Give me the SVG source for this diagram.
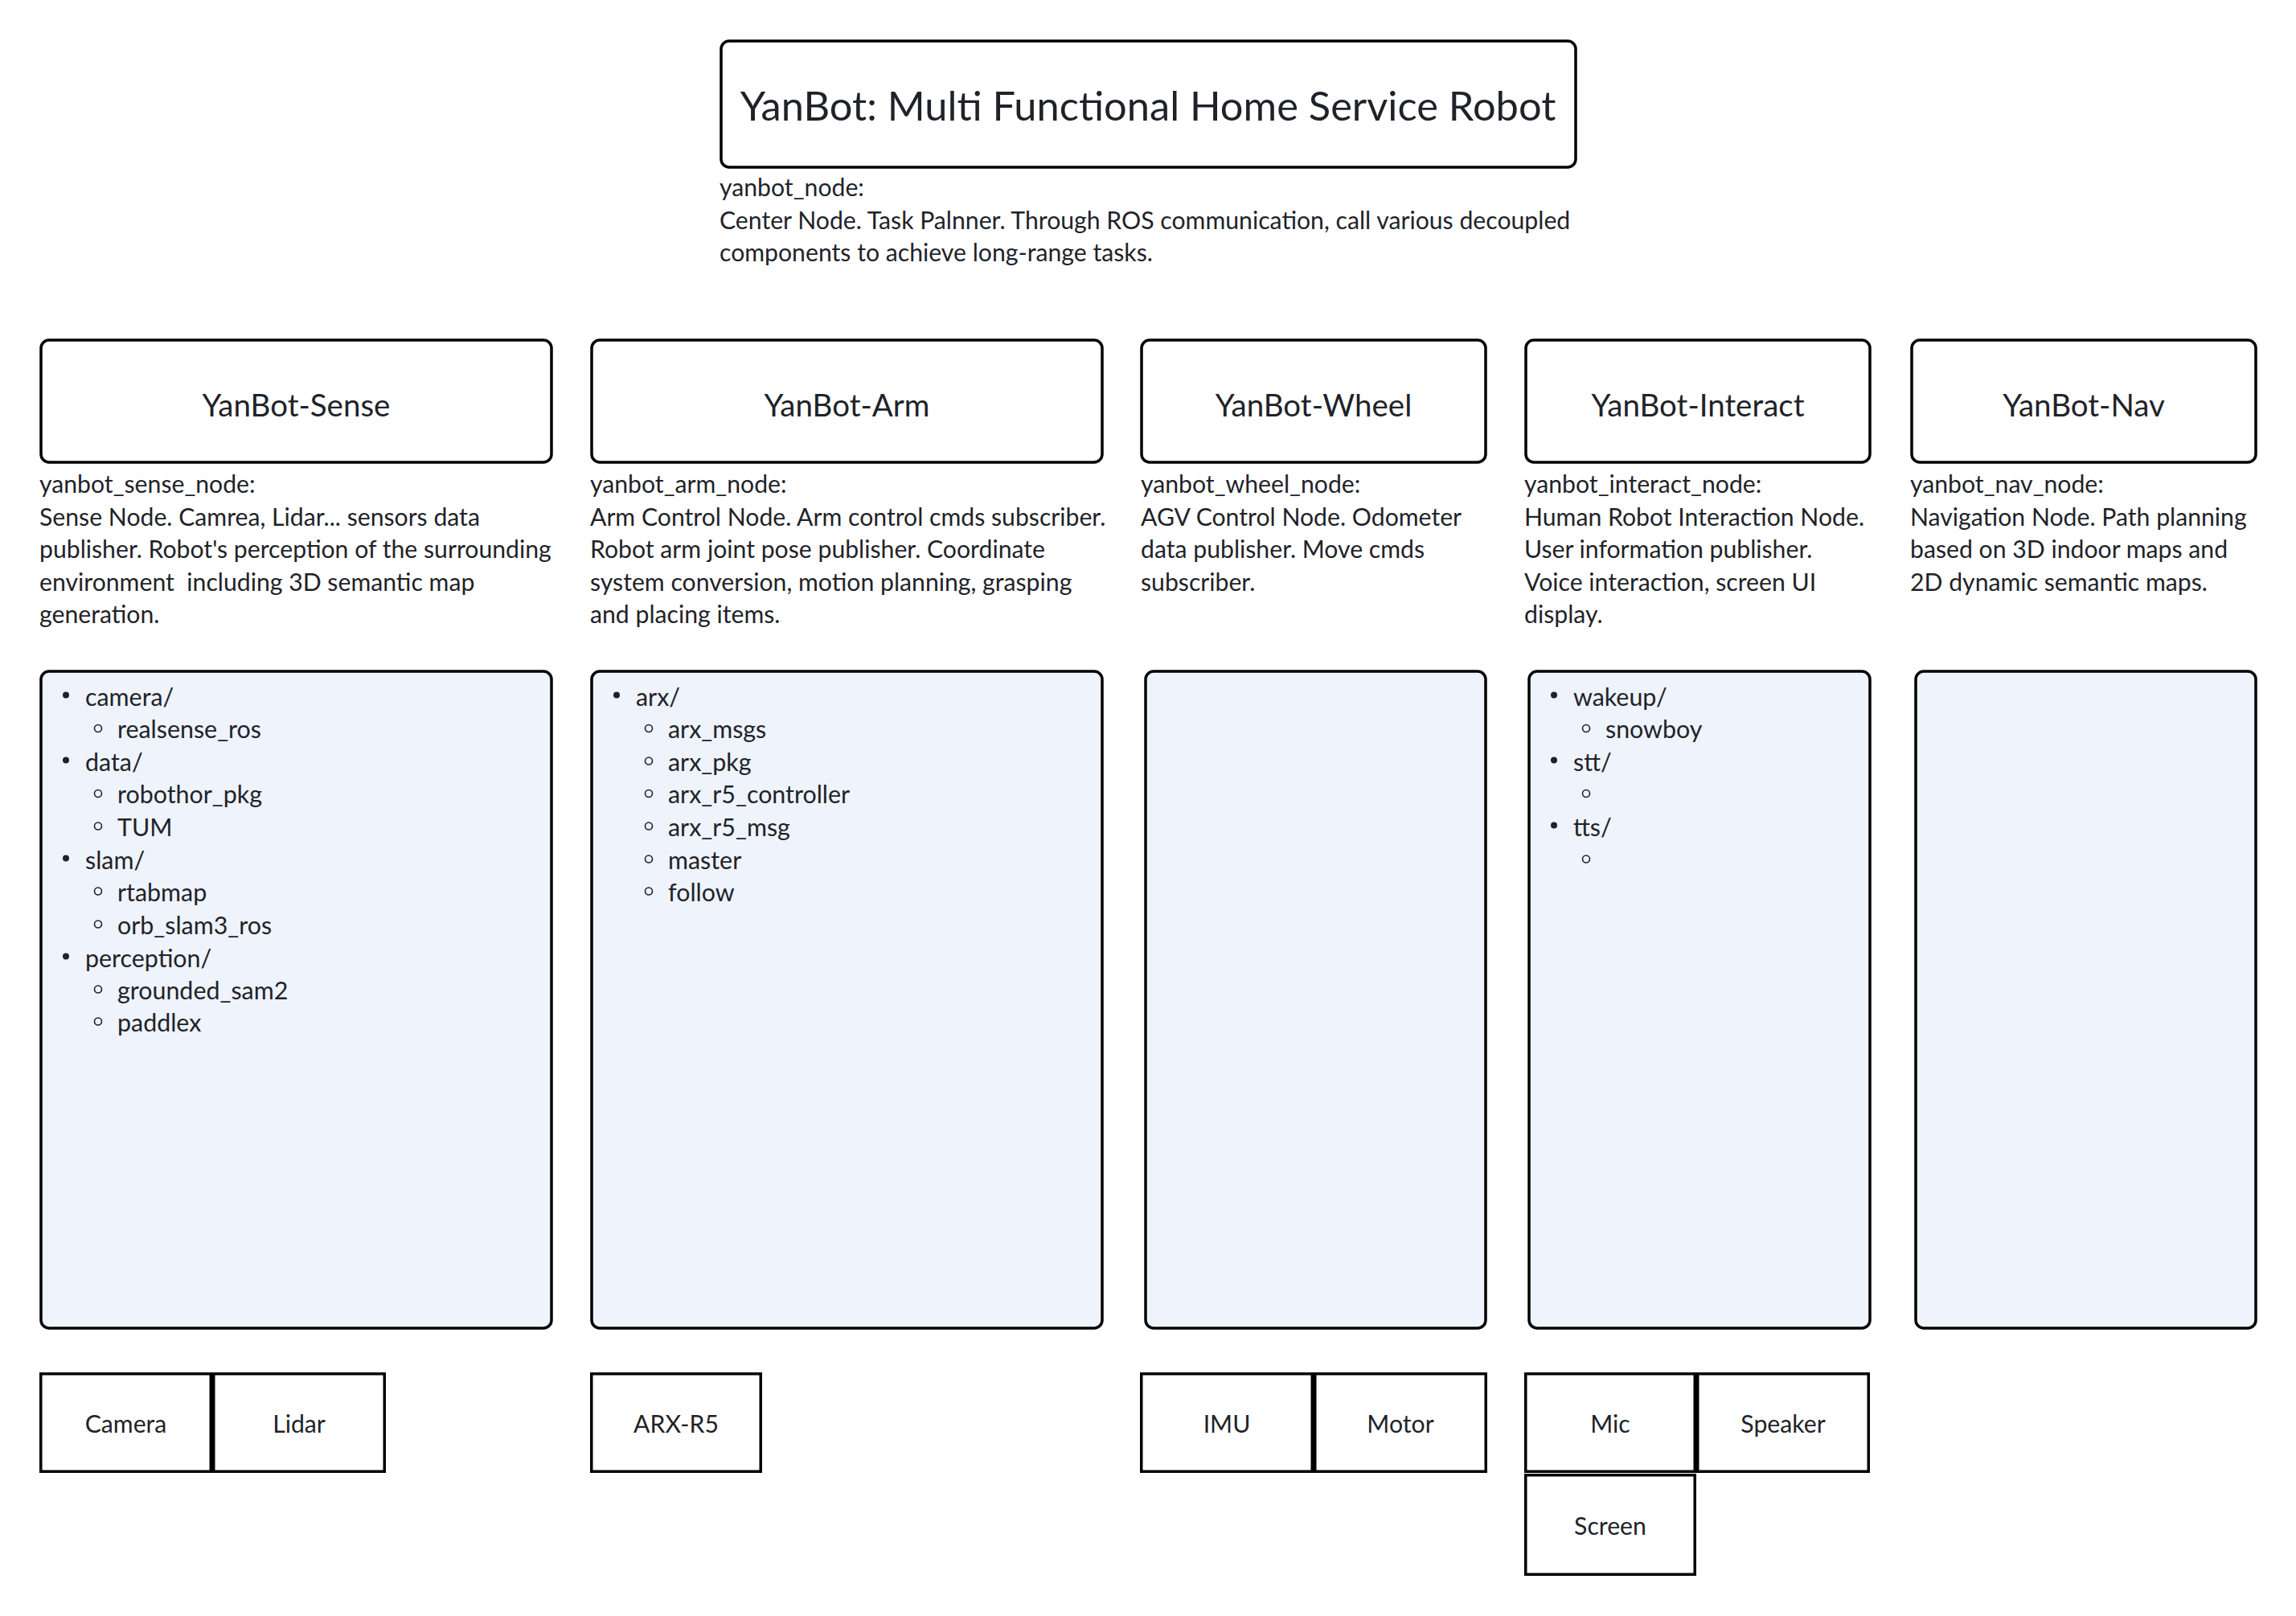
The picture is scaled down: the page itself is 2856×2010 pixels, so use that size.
<svg xmlns="http://www.w3.org/2000/svg" width="2856" height="2010" viewBox="0 0 2856 2010">
<style>
  text { font-family: Lato, "Liberation Sans", sans-serif; fill: #1f2329; white-space: pre; }
  .title { font-size: 50.6px; text-anchor: middle; }
  .head { font-size: 38.5px; text-anchor: middle; }
  .desc { font-size: 30.2px; }
  .item { font-size: 30.4px; }
  .dev { font-size: 30.2px; text-anchor: middle; }
  .hbox { fill: #ffffff; stroke: #000000; stroke-width: 3.5; }
  .lbox { fill: #eef3fc; stroke: #000000; stroke-width: 3.5; }
  .dbox { fill: #ffffff; stroke: #000000; stroke-width: 3.5; }
  .dot { fill: #1f2329; }
  .ring { fill: none; stroke: #1f2329; stroke-width: 1.6; }
</style>
<rect width="2856" height="2010" fill="#ffffff"/>
<g id="connectors"></g>

<g id="yanbot">
  <rect class="hbox" x="897" y="51" width="1063" height="157" rx="10"/>
  <text class="title" x="1428" y="150">YanBot: Multi Functional Home Service Robot</text>
  <text class="desc" x="895" y="244">yanbot_node:</text>
  <text class="desc" x="895" y="284.6">Center Node. Task Palnner. Through ROS communication, call various decoupled</text>
  <text class="desc" x="895" y="325.2">components to achieve long-range tasks.</text>
</g>

<g id="sense">
  <rect class="hbox" x="51" y="423" width="635" height="152" rx="10"/>
  <text class="head" x="368.5" y="518">YanBot-Sense</text>
  <text class="desc" x="49" y="613">yanbot_sense_node:</text>
  <text class="desc" x="49" y="653.6">Sense Node. Camrea, Lidar... sensors data</text>
  <text class="desc" x="49" y="694.2">publisher. Robot's perception of the surrounding</text>
  <text class="desc" x="49" y="734.8">environment  including 3D semantic map</text>
  <text class="desc" x="49" y="775.4">generation.</text>
</g>
<g id="sense-list">
  <rect class="lbox" x="51" y="835" width="635" height="817" rx="10"/>
  <circle class="dot" cx="82" cy="864.5" r="4"/><text class="item" x="106" y="877.5">camera/</text>
  <circle class="ring" cx="122" cy="906" r="4.5"/><text class="item" x="146" y="918">realsense_ros</text>
  <circle class="dot" cx="82" cy="945.5" r="4"/><text class="item" x="106" y="958.5">data/</text>
  <circle class="ring" cx="122" cy="987" r="4.5"/><text class="item" x="146" y="999">robothor_pkg</text>
  <circle class="ring" cx="122" cy="1027.5" r="4.5"/><text class="item" x="146" y="1039.5">TUM</text>
  <circle class="dot" cx="82" cy="1067.5" r="4"/><text class="item" x="106" y="1080.5">slam/</text>
  <circle class="ring" cx="122" cy="1108.5" r="4.5"/><text class="item" x="146" y="1120.5">rtabmap</text>
  <circle class="ring" cx="122" cy="1149.5" r="4.5"/><text class="item" x="146" y="1161.5">orb_slam3_ros</text>
  <circle class="dot" cx="82" cy="1189.5" r="4"/><text class="item" x="106" y="1202.5">perception/</text>
  <circle class="ring" cx="122" cy="1230.5" r="4.5"/><text class="item" x="146" y="1242.5">grounded_sam2</text>
  <circle class="ring" cx="122" cy="1270.5" r="4.5"/><text class="item" x="146" y="1282.5">paddlex</text>
</g>
<g id="camera">
  <rect class="dbox" x="50.75" y="1708.75" width="211.5" height="121.5"/>
  <text class="dev" x="156.5" y="1782">Camera</text>
</g>
<g id="lidar">
  <rect class="dbox" x="265.75" y="1708.75" width="212.5" height="121.5"/>
  <text class="dev" x="372" y="1782">Lidar</text>
</g>

<g id="arm">
  <rect class="hbox" x="736" y="423" width="635" height="152" rx="10"/>
  <text class="head" x="1053.5" y="518">YanBot-Arm</text>
  <text class="desc" x="734" y="613">yanbot_arm_node:</text>
  <text class="desc" x="734" y="653.6">Arm Control Node. Arm control cmds subscriber.</text>
  <text class="desc" x="734" y="694.2">Robot arm joint pose publisher. Coordinate</text>
  <text class="desc" x="734" y="734.8">system conversion, motion planning, grasping</text>
  <text class="desc" x="734" y="775.4">and placing items.</text>
</g>
<g id="arm-list">
  <rect class="lbox" x="736" y="835" width="635" height="817" rx="10"/>
  <circle class="dot" cx="767" cy="864.5" r="4"/><text class="item" x="791" y="877.5">arx/</text>
  <circle class="ring" cx="807" cy="906" r="4.5"/><text class="item" x="831" y="918">arx_msgs</text>
  <circle class="ring" cx="807" cy="946.5" r="4.5"/><text class="item" x="831" y="958.5">arx_pkg</text>
  <circle class="ring" cx="807" cy="987" r="4.5"/><text class="item" x="831" y="999">arx_r5_controller</text>
  <circle class="ring" cx="807" cy="1027.5" r="4.5"/><text class="item" x="831" y="1039.5">arx_r5_msg</text>
  <circle class="ring" cx="807" cy="1068.5" r="4.5"/><text class="item" x="831" y="1080.5">master</text>
  <circle class="ring" cx="807" cy="1108.5" r="4.5"/><text class="item" x="831" y="1120.5">follow</text>
</g>
<g id="arx-r5">
  <rect class="dbox" x="735.75" y="1708.75" width="210.5" height="121.5"/>
  <text class="dev" x="841" y="1782">ARX-R5</text>
</g>

<g id="wheel">
  <rect class="hbox" x="1420" y="423" width="428" height="152" rx="10"/>
  <text class="head" x="1634" y="518">YanBot-Wheel</text>
  <text class="desc" x="1419" y="613">yanbot_wheel_node:</text>
  <text class="desc" x="1419" y="653.6">AGV Control Node. Odometer</text>
  <text class="desc" x="1419" y="694.2">data publisher. Move cmds</text>
  <text class="desc" x="1419" y="734.8">subscriber.</text>
</g>
<g id="wheel-list">
  <rect class="lbox" x="1425" y="835" width="423" height="817" rx="10"/>
</g>
<g id="imu">
  <rect class="dbox" x="1419.75" y="1708.75" width="212.5" height="121.5"/>
  <text class="dev" x="1526" y="1782">IMU</text>
</g>
<g id="motor">
  <rect class="dbox" x="1635.75" y="1708.75" width="212.5" height="121.5"/>
  <text class="dev" x="1742" y="1782">Motor</text>
</g>

<g id="interact">
  <rect class="hbox" x="1898" y="423" width="428" height="152" rx="10"/>
  <text class="head" x="2112" y="518">YanBot-Interact</text>
  <text class="desc" x="1896" y="613">yanbot_interact_node:</text>
  <text class="desc" x="1896" y="653.6">Human Robot Interaction Node.</text>
  <text class="desc" x="1896" y="694.2">User information publisher.</text>
  <text class="desc" x="1896" y="734.8">Voice interaction, screen UI</text>
  <text class="desc" x="1896" y="775.4">display.</text>
</g>
<g id="interact-list">
  <rect class="lbox" x="1902" y="835" width="424" height="817" rx="10"/>
  <circle class="dot" cx="1933" cy="864.5" r="4"/><text class="item" x="1957" y="877.5">wakeup/</text>
  <circle class="ring" cx="1973" cy="906" r="4.5"/><text class="item" x="1997" y="918">snowboy</text>
  <circle class="dot" cx="1933" cy="945.5" r="4"/><text class="item" x="1957" y="958.5">stt/</text>
  <circle class="ring" cx="1973" cy="987" r="4.5"/>
  <circle class="dot" cx="1933" cy="1026.5" r="4"/><text class="item" x="1957" y="1039.5">tts/</text>
  <circle class="ring" cx="1973" cy="1068.5" r="4.5"/>
</g>
<g id="mic">
  <rect class="dbox" x="1897.75" y="1708.75" width="210.5" height="121.5"/>
  <text class="dev" x="2003" y="1782">Mic</text>
</g>
<g id="speaker">
  <rect class="dbox" x="2111.75" y="1708.75" width="212.5" height="121.5"/>
  <text class="dev" x="2218" y="1782">Speaker</text>
</g>
<g id="screen">
  <rect class="dbox" x="1897.75" y="1834.75" width="210.5" height="123.5"/>
  <text class="dev" x="2003" y="1909">Screen</text>
</g>

<g id="nav">
  <rect class="hbox" x="2378" y="423" width="428" height="152" rx="10"/>
  <text class="head" x="2592" y="518">YanBot-Nav</text>
  <text class="desc" x="2376" y="613">yanbot_nav_node:</text>
  <text class="desc" x="2376" y="653.6">Navigation Node. Path planning</text>
  <text class="desc" x="2376" y="694.2">based on 3D indoor maps and</text>
  <text class="desc" x="2376" y="734.8">2D dynamic semantic maps.</text>
</g>
<g id="nav-list">
  <rect class="lbox" x="2383" y="835" width="423" height="817" rx="10"/>
</g>
</svg>
